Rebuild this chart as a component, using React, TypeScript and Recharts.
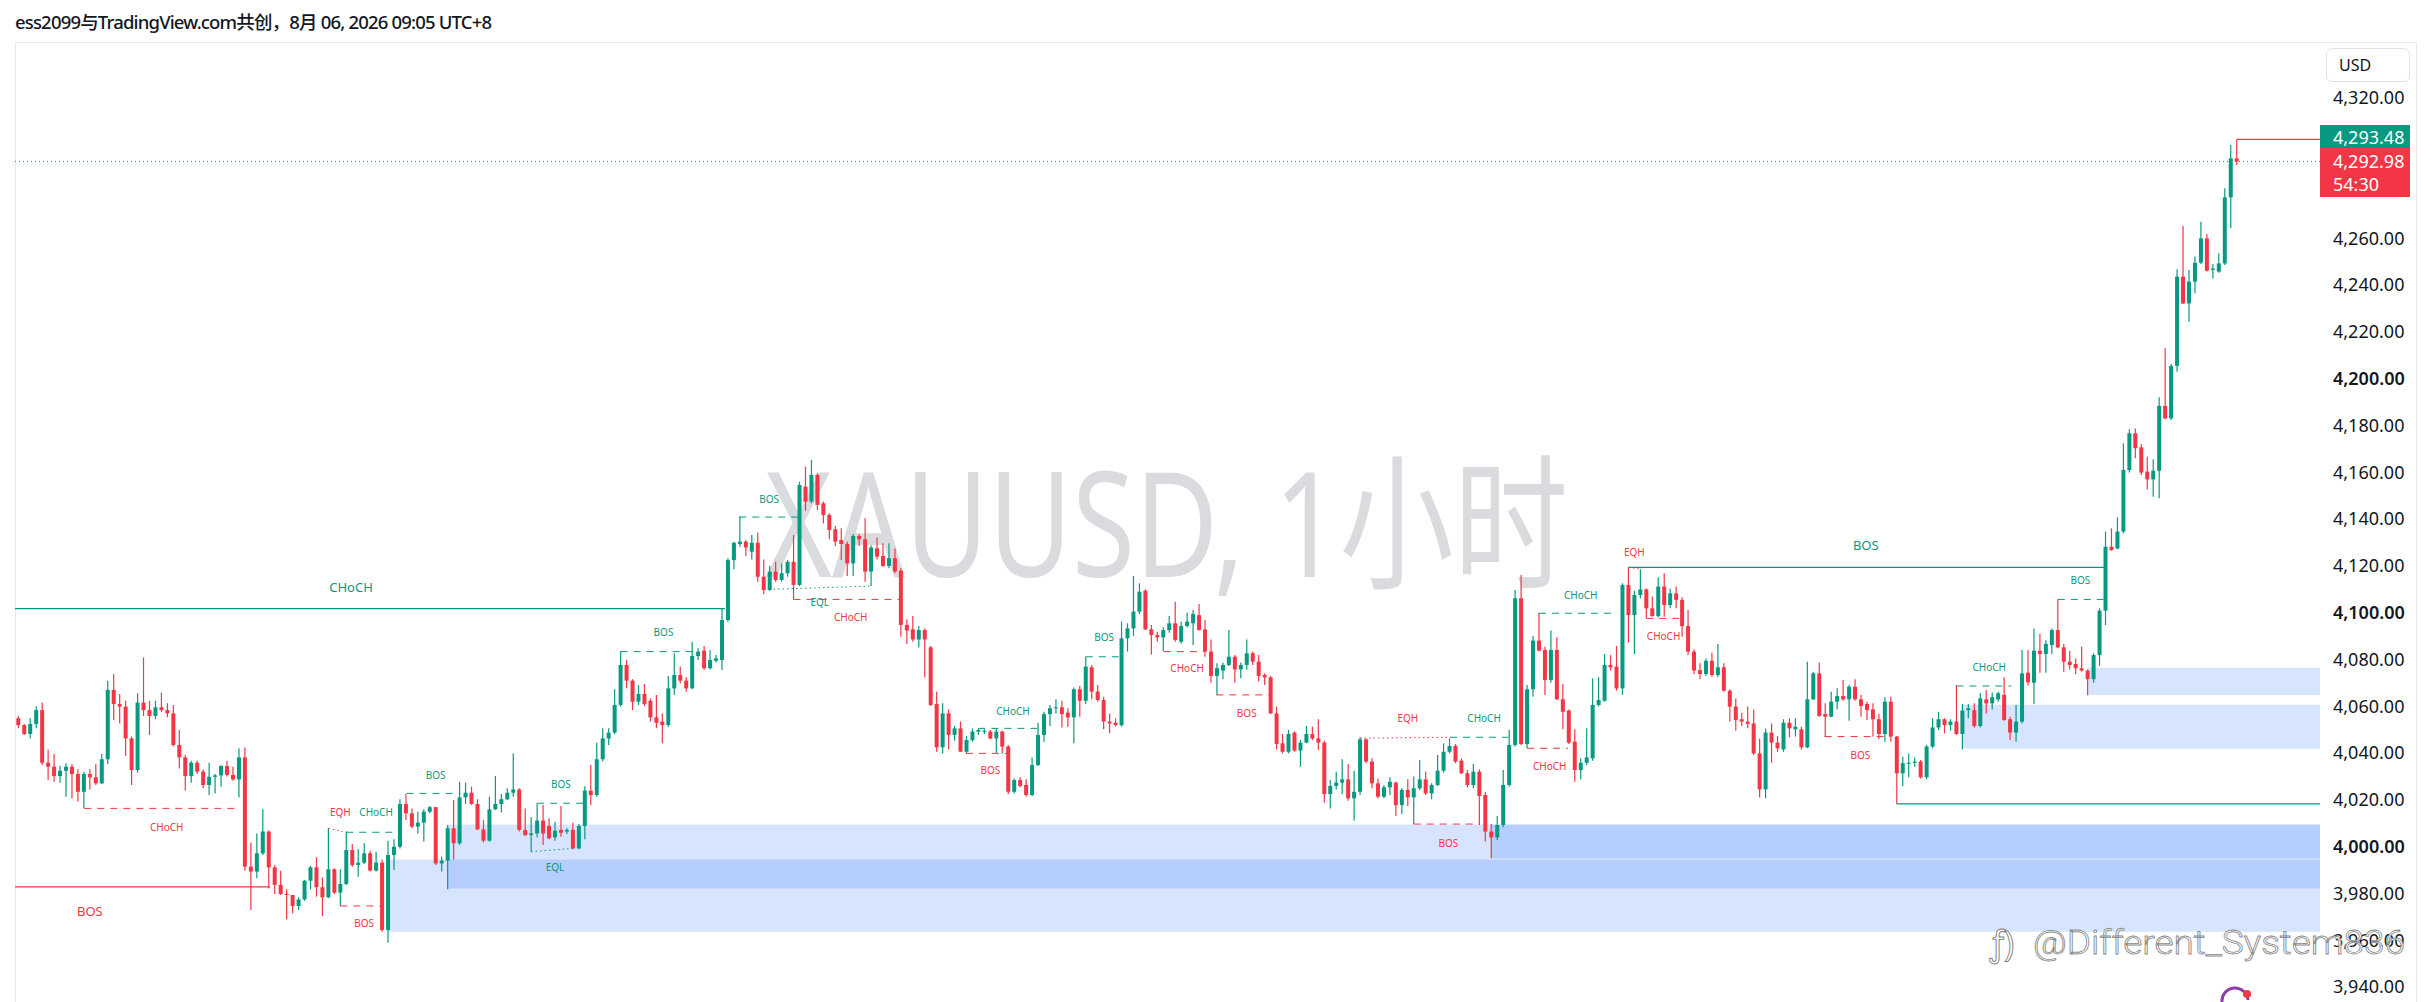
import React from 'react';
import { ComposedChart, Bar, XAxis, YAxis, ReferenceLine, ReferenceArea, ReferenceDot } from 'recharts';

// ---------------- data ----------------
const opens = [
4055.0,4052.1,4048.3,4052.6,4058.5,4036.0,4034.3,4030.3,4032.6,4034.3,4031.2,4023.6,4031.2,4029.8,4027.2,4037.5,4067.1,4061.1,4060.0,4046.4,4032.9,4061.7,4058.5,4056.0,4059.7,4058.5,4057.1,4043.6,4038.3,4030.3,4036.0,4032.2,4026.5,4030.0,4030.6,4034.6,4030.8,4028.9,4038.3,3991.6,3989.5,3997.3,4006.6,3991.3,3983.8,3979.9,3979.5,3974.8,3977.6,
3985.6,3991.3,3982.8,3978.5,3990.5,3980.5,3984.2,3998.7,3992.3,3993.3,3997.3,3989.9,3993.3,3964.5,3996.6,4000.1,4018.4,4014.4,4008.7,4010.4,4015.1,4017.0,3993.0,3994.2,4008.0,4001.6,4021.2,4023.2,4018.4,4007.5,4002.7,4016.1,4018.4,4020.4,4023.2,4024.6,4007.3,4005.1,4005.8,4011.3,4009.0,4004.1,4007.3,4006.6,4007.3,3999.4,4009.0,4024.1,4022.2,
4037.5,4046.4,4048.9,4060.7,4077.8,4071.1,4062.1,4065.4,4062.5,4055.4,4053.6,4052.1,4067.8,4073.5,4071.1,4067.8,4081.6,4083.9,4076.4,4079.6,4079.9,4097.0,4122.6,4129.5,4130.5,4126.2,4130.0,4115.5,4109.8,4117.7,4114.1,4117.0,4121.9,4112.0,4154.0,4147.6,4159.0,4146.9,4141.9,4135.8,4131.2,4129.5,4121.2,4132.9,4131.5,4117.7,4127.6,4124.4,4120.1,
4123.4,4118.1,4094.9,4093.0,4088.7,4092.7,4085.3,4061.1,4042.6,4057.1,4047.9,4050.7,4040.7,4045.7,4049.3,4049.3,4049.3,4046.4,4049.3,4042.9,4023.6,4028.6,4026.5,4022.2,4035.0,4047.9,4056.8,4059.3,4059.7,4057.4,4055.4,4067.4,4062.5,4076.8,4066.4,4062.8,4053.6,4053.1,4052.1,4089.2,4093.4,4100.6,4109.5,4093.0,4090.6,4089.6,4092.7,4095.6,
4087.7,4094.4,4095.6,4099.1,4093.0,4083.5,4073.1,4075.4,4077.8,4081.3,4075.9,4077.8,4082.8,4079.2,4073.5,4072.5,4057.1,4044.3,4040.7,4048.9,4041.2,4044.6,4048.3,4046.4,4044.6,4022.6,4026.1,4027.5,4028.9,4020.8,4023.6,4046.0,4036.5,4027.2,4021.5,4025.5,4027.5,4017.9,4024.4,4021.2,4025.1,4028.9,4022.9,4026.5,4032.6,4040.7,4043.2,4036.9,4031.5,
4026.5,4032.2,4022.2,4006.6,4004.1,4009.4,4026.5,4043.6,4106.3,4044.0,4067.4,4088.2,4084.2,4071.4,4084.2,4063.1,4058.3,4045.0,4032.9,4036.0,4037.9,4060.7,4062.5,4077.8,4077.1,4067.8,4112.0,4099.1,4107.7,4110.1,4102.0,4098.7,4111.3,4103.4,4108.4,4105.6,4094.4,4083.5,4075.6,4073.9,4079.6,4073.5,4076.8,4066.8,4060.0,4054.6,4053.6,4052.8,
4040.0,4024.6,4048.9,4044.6,4041.7,4053.1,4050.3,4050.3,4042.6,4063.1,4074.2,4056.8,4055.7,4062.1,4064.5,4063.1,4068.5,4063.1,4061.1,4058.8,4054.6,4048.3,4062.1,4047.2,4031.5,4035.8,4036.0,4036.5,4029.8,4042.9,4051.1,4054.6,4052.1,4053.6,4048.3,4058.5,4058.5,4051.7,4063.1,4061.4,4063.1,4065.0,4054.6,4048.9,4053.6,4074.5,4070.2,4083.9,4082.5,
4086.3,4092.7,4085.3,4079.2,4078.2,4076.4,4075.4,4071.7,4082.0,4101.0,4128.3,4127.6,4134.8,4161.1,4176.8,4170.8,4160.4,4157.1,4160.8,4188.5,4183.2,4205.6,4243.7,4232.3,4241.6,4249.7,4260.1,4246.6,4245.9,4249.4,4277.6,4294.3,
];
const highs = [
4056.0,4052.6,4055.0,4060.2,4061.7,4041.7,4039.7,4034.6,4035.8,4035.5,4033.2,4032.2,4033.2,4035.5,4039.7,4071.1,4073.9,4065.4,4062.5,4047.2,4065.7,4081.0,4062.5,4062.5,4066.0,4061.4,4060.7,4050.0,4039.3,4036.9,4036.9,4033.2,4036.0,4031.2,4035.0,4036.9,4034.3,4042.2,4042.5,4001.9,4005.8,4016.1,4007.0,3992.3,3989.9,3981.9,3979.5,3978.5,3985.9,
3991.9,3995.6,3987.0,4008.0,3990.9,3990.5,4006.6,4001.3,3999.0,4001.6,3998.4,3998.0,3994.7,4002.7,4003.3,4020.4,4022.6,4016.5,4015.1,4016.1,4017.5,4017.2,3995.9,4009.4,4020.1,4027.9,4027.5,4025.8,4020.4,4011.5,4021.5,4030.3,4022.6,4025.1,4040.0,4025.1,4016.5,4012.7,4018.7,4018.0,4012.3,4010.8,4017.5,4008.0,4010.4,4009.8,4026.0,4035.0,4044.6,
4050.7,4050.7,4067.4,4083.5,4079.9,4071.7,4069.2,4069.7,4063.5,4065.0,4057.1,4073.1,4082.8,4077.1,4072.5,4087.7,4084.9,4085.9,4084.2,4082.0,4102.0,4123.4,4130.5,4141.2,4131.2,4133.3,4134.3,4122.9,4120.1,4121.9,4121.2,4122.6,4133.3,4156.1,4162.5,4165.4,4159.7,4147.6,4142.6,4137.2,4136.2,4130.5,4133.8,4133.8,4140.5,4129.0,4132.3,4129.8,4129.8,
4127.6,4119.1,4097.3,4098.7,4094.4,4093.4,4085.9,4066.4,4061.4,4058.8,4051.7,4053.6,4047.4,4050.7,4050.7,4050.3,4050.0,4050.7,4049.7,4043.6,4029.3,4029.8,4028.9,4038.3,4053.1,4057.8,4060.7,4063.1,4062.5,4059.3,4068.2,4068.8,4081.3,4077.8,4069.2,4064.2,4057.1,4055.0,4096.3,4095.6,4115.8,4112.7,4110.1,4094.9,4092.0,4093.9,4098.7,4104.8,
4096.3,4100.1,4101.3,4103.8,4097.0,4088.7,4078.5,4078.8,4092.7,4082.0,4078.8,4088.7,4083.5,4082.0,4074.2,4073.1,4060.0,4048.3,4050.0,4049.3,4045.7,4051.7,4051.4,4054.6,4045.4,4028.6,4032.2,4037.5,4035.5,4032.6,4046.9,4046.4,4037.9,4029.3,4026.5,4029.8,4027.9,4025.1,4028.9,4030.1,4037.2,4032.2,4027.2,4039.3,4044.3,4046.4,4044.0,4037.9,4032.9,
4035.5,4033.2,4023.6,4009.8,4013.2,4032.9,4050.0,4109.8,4116.2,4069.2,4090.2,4100.1,4085.6,4092.5,4089.6,4069.7,4058.8,4050.3,4037.9,4050.7,4072.1,4072.5,4082.5,4082.0,4085.9,4112.7,4119.5,4109.5,4118.7,4110.5,4107.0,4115.2,4117.0,4110.5,4111.3,4106.7,4101.3,4084.5,4078.5,4080.6,4083.0,4086.8,4078.5,4067.4,4063.5,4057.4,4060.0,4058.8,
4046.4,4050.7,4052.8,4047.4,4054.6,4055.0,4055.0,4051.4,4079.2,4074.9,4078.8,4061.4,4066.4,4067.8,4071.4,4069.2,4071.7,4065.0,4062.1,4061.4,4056.8,4064.0,4064.2,4047.4,4038.6,4040.0,4038.3,4037.2,4043.6,4055.0,4057.8,4055.0,4054.6,4069.2,4061.1,4061.1,4061.4,4065.7,4067.1,4066.0,4066.4,4072.5,4055.7,4060.7,4084.2,4084.2,4093.4,4091.0,4088.5,
4093.4,4105.8,4086.8,4083.9,4080.6,4085.6,4075.9,4082.8,4102.0,4134.8,4136.2,4140.9,4172.5,4178.5,4178.9,4172.2,4166.8,4165.7,4192.2,4213.1,4206.4,4246.9,4265.4,4246.6,4252.3,4267.2,4262.0,4249.1,4253.7,4281.5,4300.0,4295.0,
];
const lows = [
4050.7,4047.9,4046.4,4050.7,4035.0,4028.6,4027.9,4027.5,4021.5,4020.8,4019.4,4016.5,4024.6,4026.5,4026.9,4035.5,4054.3,4052.8,4038.9,4026.5,4031.8,4056.0,4047.9,4054.6,4057.8,4055.4,4042.9,4033.6,4024.1,4027.5,4031.2,4025.1,4022.2,4022.9,4025.8,4030.1,4028.3,4021.2,3989.9,3973.1,3986.6,3996.6,3982.3,3979.9,3979.5,3969.1,3971.7,3973.1,3977.0,
3981.9,3978.8,3970.5,3978.1,3979.9,3974.8,3983.8,3991.6,3987.3,3992.7,3989.5,3989.5,3963.8,3959.1,3990.2,3999.4,4011.5,4008.0,4005.8,4002.3,4014.4,3992.3,3989.5,3981.9,3994.7,4000.9,4018.4,4018.0,4007.3,4001.9,4002.3,4015.8,4014.7,4020.1,4021.5,4006.6,4004.7,3998.0,4004.1,4000.9,4003.3,4002.7,4004.4,4005.6,3999.0,3999.0,4003.3,4018.0,4021.5,
4036.5,4043.6,4048.3,4060.0,4067.8,4058.5,4060.7,4060.3,4053.6,4050.7,4044.3,4051.4,4065.0,4069.9,4066.4,4067.4,4079.9,4075.6,4075.9,4078.8,4075.6,4096.3,4118.7,4128.3,4124.4,4122.9,4113.4,4108.1,4109.5,4113.4,4113.4,4115.5,4105.8,4111.5,4143.7,4146.9,4144.0,4138.3,4131.5,4128.6,4122.6,4115.8,4115.8,4128.6,4113.4,4111.5,4122.9,4119.8,4119.1,
4117.0,4089.9,4086.8,4087.7,4085.3,4072.5,4060.3,4040.7,4040.0,4041.7,4045.4,4040.7,4040.0,4045.0,4047.9,4048.3,4046.0,4040.0,4040.0,4022.6,4022.9,4025.5,4021.5,4021.8,4034.6,4045.0,4051.7,4057.1,4051.1,4051.4,4044.3,4055.7,4061.1,4063.1,4062.1,4050.3,4048.6,4051.4,4051.4,4083.5,4090.2,4099.6,4092.7,4082.3,4087.7,4083.5,4091.6,4087.7,
4087.0,4093.9,4086.3,4092.5,4081.3,4070.2,4065.0,4071.7,4077.4,4070.2,4072.1,4075.9,4077.8,4070.7,4069.2,4056.8,4041.7,4040.0,4040.0,4040.7,4034.3,4044.3,4045.7,4041.5,4018.9,4016.5,4024.6,4022.6,4019.8,4011.3,4022.2,4035.8,4025.1,4020.8,4020.8,4022.2,4013.2,4014.1,4017.5,4009.8,4024.4,4022.2,4020.4,4026.1,4031.8,4040.0,4035.8,4031.2,4025.5,
4025.1,4009.4,4002.3,3995.2,4003.0,4008.4,4025.8,4042.9,4043.6,4042.2,4064.2,4083.5,4065.0,4070.2,4062.8,4050.3,4044.0,4027.9,4028.9,4035.0,4036.9,4060.0,4062.1,4075.4,4066.8,4065.0,4087.3,4082.5,4106.3,4097.7,4098.4,4098.1,4098.4,4102.0,4102.0,4089.9,4082.0,4073.9,4071.7,4073.1,4072.8,4072.5,4066.4,4053.6,4049.7,4051.7,4050.7,4039.3,
4021.2,4020.8,4036.0,4040.7,4040.7,4046.9,4047.2,4041.7,4042.2,4062.8,4055.7,4047.2,4055.4,4058.8,4062.5,4054.0,4062.5,4055.7,4054.3,4047.2,4046.0,4045.0,4045.0,4018.4,4026.1,4029.8,4034.3,4029.3,4028.9,4042.2,4050.0,4048.6,4049.7,4047.9,4041.7,4055.0,4051.1,4051.1,4057.1,4058.8,4062.1,4054.0,4045.7,4045.0,4052.8,4069.0,4061.1,4074.5,4074.5,
4082.5,4084.9,4074.9,4075.9,4073.9,4074.9,4064.9,4070.2,4077.4,4094.9,4126.6,4127.2,4134.0,4160.0,4166.1,4159.0,4152.9,4149.7,4149.0,4182.8,4182.5,4203.1,4232.0,4224.5,4236.6,4249.1,4245.9,4243.0,4245.4,4248.7,4264.4,4291.5,
];
const closes = [
4052.1,4048.3,4052.6,4058.5,4036.0,4034.3,4030.3,4032.6,4034.3,4031.2,4023.6,4031.2,4029.8,4027.2,4037.5,4067.1,4061.1,4060.0,4046.4,4032.9,4061.7,4058.5,4056.0,4059.7,4058.5,4057.1,4043.6,4038.3,4030.3,4036.0,4032.2,4026.5,4030.0,4030.6,4034.6,4030.8,4028.9,4038.3,3991.6,3989.5,3997.3,4006.6,3991.3,3983.8,3979.9,3979.5,3974.8,3977.6,3985.6,
3991.3,3982.8,3978.5,3990.5,3980.5,3984.2,3998.7,3992.3,3993.3,3997.3,3989.9,3993.3,3964.5,3996.6,4000.1,4018.4,4014.4,4008.7,4010.4,4015.1,4017.0,3993.0,3994.2,4008.0,4001.6,4021.2,4023.2,4018.4,4007.5,4002.7,4016.1,4018.4,4020.4,4023.2,4024.6,4007.3,4005.1,4005.8,4011.3,4005.8,4003.7,4007.0,4006.1,4007.3,3999.4,4009.0,4024.1,4022.2,4037.5,
4046.4,4048.9,4060.7,4077.8,4071.1,4062.1,4065.4,4061.1,4055.4,4053.1,4052.1,4067.8,4073.5,4071.1,4067.8,4081.6,4083.5,4076.4,4079.9,4080.6,4097.0,4122.6,4130.0,4130.5,4128.0,4130.0,4115.5,4109.8,4117.7,4114.1,4117.0,4121.9,4112.0,4154.7,4147.6,4159.0,4146.2,4141.9,4135.5,4130.5,4129.5,4121.2,4132.9,4131.5,4117.7,4128.0,4124.1,4120.1,4123.4,
4117.7,4094.9,4092.5,4088.7,4092.7,4088.7,4060.7,4042.6,4057.1,4047.9,4050.7,4040.7,4045.7,4049.3,4050.0,4049.7,4046.4,4049.3,4042.9,4023.6,4028.6,4026.1,4022.2,4035.0,4047.9,4056.8,4059.3,4059.7,4056.8,4055.4,4067.4,4062.5,4077.1,4066.4,4062.8,4053.6,4052.8,4052.1,4089.2,4093.4,4100.6,4109.1,4093.0,4090.6,4089.6,4092.7,4095.6,4088.5,
4094.4,4096.3,4099.6,4092.7,4083.5,4073.1,4076.4,4077.8,4081.3,4075.9,4077.8,4082.8,4079.2,4073.1,4072.5,4057.1,4044.0,4040.7,4048.3,4041.2,4044.6,4048.3,4046.4,4044.6,4022.6,4026.1,4027.5,4028.9,4020.8,4023.6,4046.0,4036.5,4027.2,4021.5,4025.5,4027.9,4017.9,4024.4,4021.2,4025.1,4028.9,4022.9,4026.5,4032.6,4040.7,4043.2,4036.5,4031.5,4026.5,
4032.2,4021.8,4006.6,4004.1,4009.4,4026.5,4043.6,4106.3,4044.0,4067.4,4088.2,4083.9,4071.4,4084.2,4063.1,4057.8,4044.6,4032.9,4036.0,4038.3,4060.7,4062.8,4077.8,4076.8,4067.8,4112.0,4099.1,4107.7,4110.1,4102.0,4098.7,4111.3,4103.4,4108.4,4105.6,4094.4,4083.5,4075.4,4073.9,4079.6,4073.5,4076.8,4066.8,4060.0,4054.3,4053.6,4052.6,4040.0,
4024.6,4048.9,4044.6,4042.2,4053.1,4050.7,4051.4,4042.6,4063.1,4074.2,4056.0,4055.7,4062.1,4064.5,4063.1,4068.5,4063.1,4060.3,4058.5,4054.6,4048.3,4062.1,4047.2,4031.5,4035.8,4036.0,4036.5,4029.8,4042.9,4051.1,4054.6,4052.1,4053.6,4048.3,4058.3,4059.3,4051.7,4063.5,4061.4,4064.0,4065.7,4054.3,4048.9,4053.6,4074.2,4070.4,4083.9,4082.5,4086.8,
4092.7,4085.3,4079.2,4077.8,4076.4,4075.4,4071.7,4082.0,4101.0,4128.3,4126.9,4134.8,4161.1,4176.8,4170.4,4160.0,4157.1,4160.8,4188.5,4183.2,4205.6,4243.7,4232.3,4241.6,4249.7,4260.1,4246.3,4247.2,4249.4,4277.6,4294.3,4292.98,
];

const priceTicks = [3940,3960,3980,4000,4020,4040,4060,4080,4100,4120,4140,4160,4180,4200,4220,4240,4260,4280,4300,4320];
const lastPrice = 4292.98;
const askPrice = 4293.48;
const countdown = '54:30';
const symbolTitle = 'XAUUSD, 1小时';
const headerText = 'ess2099与TradingView.com共创，8月 06, 2026 09:05 UTC+8';
const watermarkText = '@Different_System836';

// order-block zones: [startIndex, low, high]
const zones: [number, number, number][] = [
  [62.0, 3963.8, 3994.7],
  [71.9, 3982.3, 4009.6],
  [247.0, 3995.2, 4009.6],
  [326.0, 4042.0, 4060.8],
  [347.1, 4065.0, 4076.6],
];

// structure lines: [kind, i1, i2, p1, p2]
const structureLines: [string, number, number, number, number][] = [
  ['bullSolid', -0.55, 118.5, 4101.9, 4101.9],
  ['bearSolid', -0.55, 42.2, 3983.0, 3983.0],
  ['bearDash', 11.07, 37.2, 4016.5, 4016.5],
  ['bearDot', 52.0, 54.8, 4008.0, 4006.3],
  ['bullDash', 55.0, 64.0, 4006.3, 4006.3],
  ['bearDash', 54.0, 61.0, 3974.8, 3974.8],
  ['bullDash', 65.1, 74.1, 4022.9, 4022.9],
  ['bullDot', 86.0, 93.0, 3998.0, 3999.4],
  ['bullDash', 87.0, 94.9, 4018.7, 4018.7],
  ['bullDash', 101.0, 113.1, 4083.5, 4083.5],
  ['bullDash', 120.9, 131.0, 4141.0, 4141.0],
  ['bullDot', 125.9, 143.1, 4110.1, 4111.5],
  ['bearDash', 130.0, 147.9, 4105.8, 4105.8],
  ['bullDash', 161.0, 170.9, 4050.7, 4050.7],
  ['bearDash', 158.9, 166.0, 4040.0, 4040.0],
  ['bullDash', 179.0, 185.0, 4081.3, 4081.3],
  ['bearDash', 192.1, 198.9, 4083.5, 4083.5],
  ['bearDash', 200.9, 210.0, 4065.0, 4065.0],
  ['bearDot', 225.0, 240.2, 4046.5, 4046.9],
  ['bearDash', 234.0, 245.1, 4009.8, 4009.8],
  ['bullDash', 240.1, 249.9, 4046.9, 4046.9],
  ['bearDash', 253.0, 259.9, 4042.2, 4042.2],
  ['bullDash', 255.0, 268.1, 4099.9, 4099.9],
  ['bearDot', 270.0, 272.2, 4119.5, 4118.7],
  ['bullSolid', 270.0, 350.0, 4119.5, 4119.5],
  ['bearDash', 273.0, 279.0, 4097.7, 4097.7],
  ['bearDash', 302.9, 314.0, 4047.2, 4047.2],
  ['bullSolid', 315.0, 385.97, 4018.4, 4018.4],
  ['bullDash', 325.0, 334.2, 4068.8, 4068.8],
  ['bullDash', 342.0, 349.7, 4105.8, 4105.8],
  ['bearSolid', 372.0, 385.97, 4302.4, 4302.4],
  ['bearSolid', 372.0, 372.0, 4295.0, 4302.4],
];

// structure labels: [text, i, price, side, size]
const structureLabels: [string, number, number, string, string][] = [
  ['CHoCH', 55.8, 4111.1, 'bull', 'big'],
  ['BOS', 12.0, 3972.6, 'bear', 'big'],
  ['CHoCH', 24.9, 4008.7, 'bear', 'small'],
  ['EQH', 54.0, 4014.8, 'bear', 'small'],
  ['CHoCH', 60.0, 4014.8, 'bull', 'small'],
  ['BOS', 58.0, 3967.4, 'bear', 'small'],
  ['BOS', 70.0, 4030.9, 'bull', 'small'],
  ['EQL', 90.0, 3991.6, 'bull', 'small'],
  ['BOS', 91.0, 4026.9, 'bull', 'small'],
  ['BOS', 108.2, 4091.8, 'bull', 'small'],
  ['BOS', 125.9, 4148.6, 'bull', 'small'],
  ['EQL', 134.4, 4104.6, 'bull', 'small'],
  ['CHoCH', 139.6, 4098.2, 'bear', 'small'],
  ['CHoCH', 166.8, 4058.2, 'bull', 'small'],
  ['BOS', 163.0, 4032.9, 'bear', 'small'],
  ['BOS', 182.1, 4089.6, 'bull', 'small'],
  ['CHoCH', 196.0, 4076.4, 'bear', 'small'],
  ['BOS', 206.0, 4057.1, 'bear', 'small'],
  ['EQH', 233.0, 4055.0, 'bear', 'small'],
  ['BOS', 239.8, 4001.8, 'bear', 'small'],
  ['CHoCH', 245.8, 4055.0, 'bull', 'small'],
  ['CHoCH', 256.8, 4034.6, 'bear', 'small'],
  ['CHoCH', 262.0, 4107.7, 'bull', 'small'],
  ['EQH', 271.0, 4126.2, 'bear', 'small'],
  ['BOS', 309.8, 4129.1, 'bull', 'big'],
  ['CHoCH', 275.9, 4090.3, 'bear', 'small'],
  ['BOS', 308.9, 4039.3, 'bear', 'small'],
  ['CHoCH', 330.5, 4076.8, 'bull', 'small'],
  ['BOS', 345.8, 4114.1, 'bull', 'small'],
];

// ---------------- styles ----------------
const UP = '#089981';
const DOWN = '#f23645';
const FONT = "'Noto Sans', 'Noto Sans CJK SC', sans-serif";
const X_DOMAIN: [number, number] = [-0.55, 385.97];
const Y_DOMAIN: [number, number] = [3933.76, 4344.02];

const candles = closes.map((c, i) => ({
  i,
  o: opens[i],
  h: highs[i],
  l: lows[i],
  c,
  range: [lows[i], highs[i]],
}));

const fmt = (v: number) => {
  const [a, b] = v.toFixed(2).split('.');
  return a.replace(/\B(?=(\d{3})+(?!\d))/g, ',') + '.' + b;
};

const Candle = (props: any) => {
  const { x, y, width, height, payload } = props;
  if (!payload || payload.o == null) return null;
  const { o, h, l, c } = payload;
  const top = Math.min(y, y + height);
  const bot = Math.max(y, y + height);
  const span = h - l || 1;
  const k = (bot - top) / span;
  const yO = top + (h - o) * k;
  const yC = top + (h - c) * k;
  const cx = x + width / 2;
  const col = c >= o ? UP : DOWN;
  const bt = Math.min(yO, yC);
  const bh = Math.max(Math.abs(yO - yC), 1);
  return (
    <g>
      <line x1={cx} x2={cx} y1={top} y2={bot} stroke={col} strokeWidth={1.2} />
      <rect x={cx - width / 2} y={bt} width={width} height={bh} fill={col} />
    </g>
  );
};

// ticks hidden behind the last-price tags (as on the price scale)
const PriceTick = (props: any) => {
  const { x, y, payload } = props;
  const v = payload.value;
  if (Math.abs(v - lastPrice) < 15) return <g />;
  const strong = v % 100 === 0;
  return (
    <text x={x} y={y} dy={6} fontSize={18} fontFamily={FONT} fill="#131722" fontWeight={strong ? 600 : 400} textAnchor="start">
      {fmt(v)}
    </text>
  );
};

const lineStyle = (kind: string) => {
  const color = kind.startsWith('bull') ? UP : DOWN;
  if (kind.endsWith('Solid')) return { stroke: color, strokeWidth: 1.2 };
  if (kind.endsWith('Dash')) return { stroke: color, strokeWidth: 1, strokeDasharray: '7 6' };
  return { stroke: color, strokeWidth: 1, strokeDasharray: '1.5 3' };
};

const makeLabelShape = (text: string, side: string, size: string) => (p: any) => (
  <text
    x={p.cx}
    y={p.cy}
    textAnchor="middle"
    dominantBaseline="central"
    fontSize={size === 'big' ? 13 : 10}
    fontFamily={FONT}
    fill={side === 'bull' ? UP : DOWN}
  >
    {text}
  </text>
);

const PriceTags = (p: any) => {
  const { cx, cy } = p;
  return (
    <g fontFamily={FONT} fontSize={18} fill="#fff">
      <rect x={cx} y={cy - 36.4} width={90} height={23} fill={UP} />
      <text x={cx + 13} y={cy - 24.9} dominantBaseline="central" fill="#fff">{fmt(askPrice)}</text>
      <rect x={cx} y={cy - 13.4} width={90} height={49} fill={DOWN} />
      <text x={cx + 13} y={cy} dominantBaseline="central" fill="#fff">{fmt(lastPrice)}</text>
      <text x={cx + 13} y={cy + 23} dominantBaseline="central" fill="#fff">{countdown}</text>
    </g>
  );
};

export default function App() {
  return (
    <div style={{ position: 'absolute', left: 0, top: 0, width: 2433, height: 1002, background: '#fff', overflow: 'hidden', fontFamily: FONT }}>
      {/* frame */}
      <div style={{ position: 'absolute', left: 15, top: 42, width: 2402, height: 1000, borderTop: '1px solid #e6e8ee', borderLeft: '1px solid #e6e8ee', borderRight: '1px solid #e6e8ee', boxSizing: 'border-box' }} />
      {/* header + symbol watermark (behind the chart) */}
      <svg width={2433} height={1002} style={{ position: 'absolute', left: 0, top: 0 }}>
        <text x={15} y={29} fontSize={18.5} fontWeight={500} fontFamily={FONT} fill="#131722" textLength={477} lengthAdjust="spacing">
          {headerText}
        </text>
        <text x={765} y={577} fontSize={146} fontFamily={FONT} fill="#dadbde" textLength={803} lengthAdjust="spacingAndGlyphs">
          {symbolTitle}
        </text>
      </svg>
      {/* USD box */}
      <div style={{ position: 'absolute', left: 2326, top: 48, width: 84, height: 34, border: '1px solid #e0e3eb', borderRadius: 6, boxSizing: 'border-box', fontSize: 16, lineHeight: '32px', paddingLeft: 12, color: '#131722' }}>
        USD
      </div>
      <div style={{ position: 'absolute', left: 0, top: 0 }}>
        <ComposedChart width={2433} height={1002} data={candles} margin={{ top: 42, right: 0, bottom: 0, left: 15 }}>
          <XAxis type="number" dataKey="i" domain={X_DOMAIN} hide allowDataOverflow />
          <YAxis
            orientation="right"
            width={113}
            domain={Y_DOMAIN}
            ticks={priceTicks}
            allowDataOverflow
            axisLine={false}
            tickLine={false}
            tickSize={0}
            tickMargin={13}
            interval={0}
            tick={<PriceTick />}
          />
          {zones.map(([s, lo, hi], k) => (
            <ReferenceArea key={'z' + k} x1={s} x2={X_DOMAIN[1]} y1={lo} y2={hi} fill="#3179f5" fillOpacity={0.2} stroke="none" ifOverflow="visible" />
          ))}
          <ReferenceLine y={lastPrice} stroke={DOWN} strokeWidth={1} strokeDasharray="1 3" />
          {structureLines.map(([kind, i1, i2, p1, p2], k) => (
            <ReferenceLine key={'l' + k} segment={[{ x: i1, y: p1 }, { x: i2, y: p2 }]} {...lineStyle(kind)} ifOverflow="visible" />
          ))}
          <Bar dataKey="range" barSize={4} shape={<Candle />} isAnimationActive={false} />
          {structureLabels.map(([text, i, p, side, size], k) => (
            <ReferenceDot key={'t' + k} x={i} y={p} r={0} ifOverflow="visible" shape={makeLabelShape(text, side, size)} />
          ))}
          <ReferenceDot x={X_DOMAIN[1]} y={lastPrice} r={0} ifOverflow="visible" shape={PriceTags} />
        </ComposedChart>
      </div>
      {/* bottom-right watermark */}
      <svg width={2433} height={1002} style={{ position: 'absolute', left: 0, top: 0, pointerEvents: 'none' }}>
        <text x={2033} y={954} fontSize={33} fontFamily="Roboto, 'Noto Sans'" fontWeight={300} fill="#ffffff" fillOpacity={0.9} stroke="#8a8a8a" strokeWidth={0.8} textLength={372} lengthAdjust="spacingAndGlyphs">
          {watermarkText}
        </text>
        <text x={1990} y={956} fontSize={34} fontFamily="'Noto Sans'" fill="#ffffff" stroke="#7a7a7a" strokeWidth={0.9}>
          ƒ)
        </text>
        <path d="M 2222 1002 A 13 13 0 0 1 2248 1000" fill="none" stroke="#8e3fa8" strokeWidth={3} />
        <circle cx={2247} cy={994} r={4} fill={DOWN} />
      </svg>
    </div>
  );
}
